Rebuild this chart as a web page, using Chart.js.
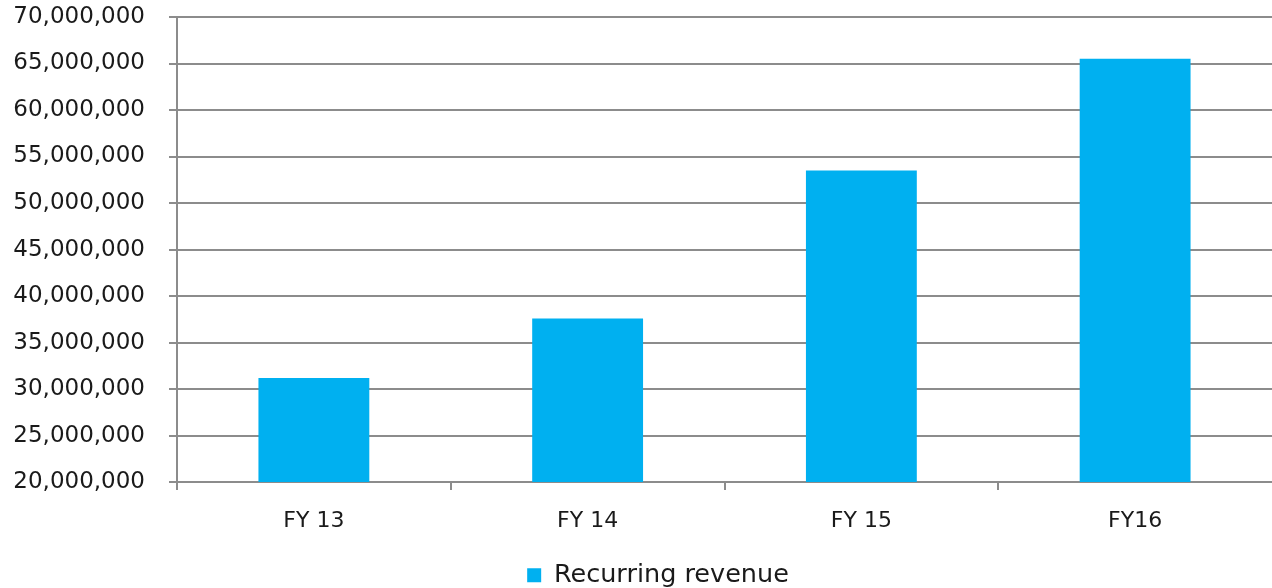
<!DOCTYPE html>
<html>
<head>
<meta charset="utf-8">
<script src="https://cdn.jsdelivr.net/npm/chart.js@4/dist/chart.umd.min.js"></script>
<style>
  html, body { margin: 0; padding: 0; background: #fff; }
  #wrap { width: 1272px; height: 588px; }
</style>
</head>
<body>
<div id="wrap"><canvas id="revenueChart"></canvas></div>
<script>
let categories = ["FY 13", "FY 14", "FY 15", "FY16"];
let recurringRevenue = [31200000, 37600000, 53500000, 65500000];
let yTicks = [20000000, 25000000, 30000000, 35000000, 40000000, 45000000, 50000000, 55000000, 60000000, 65000000, 70000000];

const fontFamily = "'DejaVu Sans', sans-serif";
const gridColor = "#8c8c8c";
const textColor = "#1a1a1a";

// the legend in the original sits a bit right of centre
const shiftLegend = {
  id: "shiftLegend",
  afterLayout(chart) {
    chart.legend.left += 22;
    chart.legend.right += 22;
  },
};

new Chart("revenueChart", {
  type: "bar",
  data: {
    labels: categories,
    datasets: [
      {
        label: "Recurring revenue",
        backgroundColor: "#00b0f0",
        data: recurringRevenue,
        categoryPercentage: 0.405,
        barPercentage: 1.0,
      },
    ],
  },
  plugins: [shiftLegend],
  options: {
    responsive: true,
    maintainAspectRatio: false,
    animation: false,
    layout: { padding: { top: 0, right: 0, left: 0, bottom: -10 } },
    plugins: {
      legend: {
        position: "bottom",
        labels: {
          color: textColor,
          font: { family: fontFamily, size: 25.5 },
          boxWidth: 14,
          boxHeight: 14,
          padding: 10,
        },
      },
      tooltip: { enabled: false },
    },
    scales: {
      x: {
        grid: {
          offset: true,
          drawOnChartArea: false,
          drawTicks: true,
          tickLength: 8,
          // the closing line at the far right gets the scale context, not a tick one
          color: (ctx) => (ctx.type === "tick" && ctx.index < categories.length ? gridColor : "rgba(0,0,0,0)"),
          lineWidth: 2,
        },
        border: { color: gridColor, width: 2 },
        ticks: {
          color: textColor,
          font: { family: fontFamily, size: 22 },
          padding: 18,
        },
      },
      y: {
        min: 20000000,
        max: 70000000,
        afterBuildTicks: (axis) => {
          axis.ticks = yTicks.map((v) => ({ value: v }));
        },
        afterFit: (axis) => {
          axis.width = 177;
          axis.paddingTop = 17;
        },
        grid: {
          color: gridColor,
          lineWidth: 2,
          tickLength: 8,
        },
        border: { color: gridColor, width: 2 },
        ticks: {
          color: textColor,
          font: { family: fontFamily, size: 23 },
          padding: 24,
          callback: (v) => v.toLocaleString("en-US"),
        },
      },
    },
  },
});
</script>
</body>
</html>
